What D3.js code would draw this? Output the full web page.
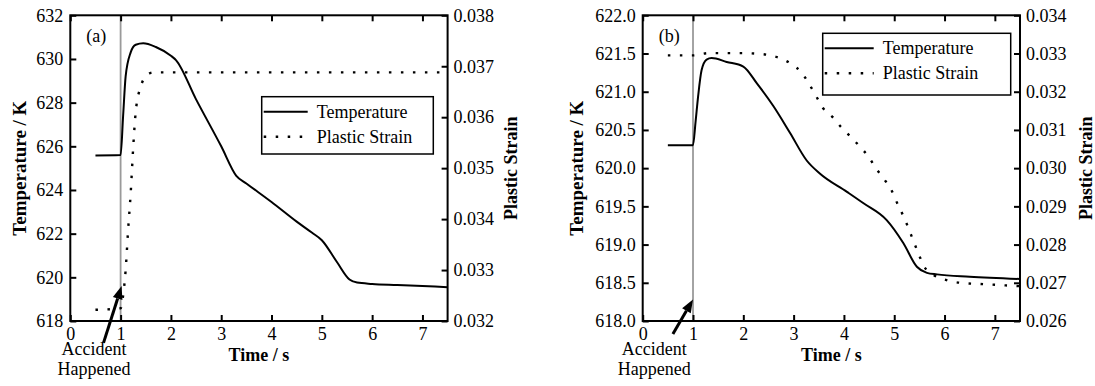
<!DOCTYPE html>
<html>
<head>
<meta charset="utf-8">
<script src="https://cdn.jsdelivr.net/npm/d3@7"></script>
<style>
  body { margin: 0; background: #fff; }
  svg, svg text { font-family: "Liberation Serif", "Times New Roman", "DejaVu Serif", serif !important; fill: #000; }
</style>
</head>
<body>
<svg id="chart" width="1095" height="386"></svg>
<script>
// ---- data ----
var timeTicks = [0, 1, 2, 3, 4, 5, 6, 7];

// panel (a)
var timeA_T = [0.5, 1.0, 1.05, 1.1, 1.2, 1.3, 1.45, 1.7, 2.0, 2.1, 2.5, 3.0, 3.3, 3.5, 4.0, 4.5, 4.8, 5.0, 5.3, 5.55, 5.7, 6.0, 6.5, 7.0, 7.5];
var tempA   = [625.58, 625.6, 627.4, 629.2, 630.3, 630.65, 630.72, 630.55, 630.15, 629.95, 628.15, 626.0, 624.65, 624.3, 623.45, 622.55, 622.05, 621.7, 620.7, 619.9, 619.76, 619.7, 619.65, 619.6, 619.55];
var timeA_S = [0.5, 1.0, 1.05, 1.1, 1.15, 1.2, 1.25, 1.3, 1.4, 1.5, 1.65, 7.5];
var strainA = [0.03222, 0.03225, 0.0325, 0.0330, 0.0338, 0.0345, 0.0354, 0.0361, 0.0366, 0.0368, 0.03688, 0.03688];
var tempTicksA   = [618, 620, 622, 624, 626, 628, 630, 632];
var strainTicksA = [0.032, 0.033, 0.034, 0.035, 0.036, 0.037, 0.038];

// panel (b)
var timeB_T = [0.5, 1.0, 1.05, 1.1, 1.17, 1.27, 1.37, 1.67, 2.0, 2.27, 2.6, 2.93, 3.26, 3.52, 4.06, 4.39, 4.85, 5.18, 5.45, 5.65, 5.85, 6.5, 7.5];
var tempB   = [620.3, 620.3, 620.6, 620.93, 621.28, 621.42, 621.44, 621.39, 621.33, 621.11, 620.81, 620.46, 620.1, 619.93, 619.69, 619.54, 619.32, 619.02, 618.71, 618.63, 618.61, 618.58, 618.55];
var timeB_S = [0.5, 1.0, 1.3, 2.0, 2.4, 2.7, 2.96, 3.16, 3.3, 3.45, 3.58, 3.78, 3.94, 4.12, 4.32, 4.49, 4.64, 4.8, 4.95, 5.06, 5.18, 5.28, 5.38, 5.48, 5.58, 5.79, 6.04, 6.31, 6.84, 7.5];
var strainB = [0.03295, 0.03295, 0.03301, 0.03301, 0.03298, 0.03289, 0.03272, 0.0325, 0.03222, 0.03188, 0.03158, 0.03133, 0.03108, 0.03084, 0.03056, 0.0303, 0.02999, 0.02971, 0.02941, 0.02908, 0.02875, 0.02844, 0.0281, 0.02777, 0.02746, 0.0272, 0.02707, 0.027, 0.02696, 0.02691];
var tempTicksB   = [618.0, 618.5, 619.0, 619.5, 620.0, 620.5, 621.0, 621.5, 622.0];
var strainTicksB = [0.026, 0.027, 0.028, 0.029, 0.030, 0.031, 0.032, 0.033, 0.034];

var seriesNames = ["Temperature", "Plastic Strain"];
var accidentTime = 1;

var FONT = "'Liberation Serif', 'Times New Roman', 'DejaVu Serif', serif";
var svg = d3.select("#chart").attr("font-family", FONT);
var top0 = 15.3, bottom0 = 321;

function zipPts(xs, ys) { return xs.map(function(x, i) { return [x, ys[i]]; }); }

function txt(sel, size, bold) {
  return sel.attr("font-family", FONT).style("font-family", FONT)
    .style("font-size", size + "px").style("font-weight", bold ? "bold" : "normal");
}

function drawPanel(p) {
  var x = d3.scaleLinear().domain([0, 7.5]).range([p.left, p.right]);
  var yT = d3.scaleLinear().domain(d3.extent(p.tempTicks)).range([bottom0, top0]);
  var yS = d3.scaleLinear().domain(d3.extent(p.strainTicks)).range([bottom0, top0]);
  var g = svg.append("g");

  // accident marker
  g.append("line")
    .attr("x1", x(accidentTime)).attr("x2", x(accidentTime))
    .attr("y1", top0).attr("y2", bottom0)
    .attr("stroke", "#9a9a9a").attr("stroke-width", 1.8);

  // curves
  var lineT = d3.line().x(function(d) { return x(d[0]); }).y(function(d) { return yT(d[1]); }).curve(d3.curveMonotoneX);
  var lineS = d3.line().x(function(d) { return x(d[0]); }).y(function(d) { return yS(d[1]); }).curve(d3.curveMonotoneX);

  g.append("path").attr("d", lineS(zipPts(p.timeS, p.strain)))
    .attr("fill", "none").attr("stroke", "#000").attr("stroke-width", 2.4)
    .attr("stroke-dasharray", "2.5,9.5");
  g.append("path").attr("d", lineT(zipPts(p.timeT, p.temp)))
    .attr("fill", "none").attr("stroke", "#000").attr("stroke-width", 2);

  // axes
  g.append("g").attr("transform", "translate(0," + bottom0 + ")")
    .call(d3.axisBottom(x).tickValues(timeTicks).tickSizeInner(-6).tickSizeOuter(0).tickPadding(6).tickFormat(d3.format("d")));
  g.append("g").attr("transform", "translate(0," + top0 + ")")
    .call(d3.axisTop(x).tickValues(timeTicks).tickSizeInner(-6).tickSizeOuter(0).tickFormat(""));
  g.append("g").attr("transform", "translate(" + p.left + ",0)")
    .call(d3.axisLeft(yT).tickValues(p.tempTicks).tickSizeInner(-6).tickSizeOuter(0).tickPadding(7).tickFormat(d3.format(p.tempFmt)));
  g.append("g").attr("transform", "translate(" + p.right + ",0)")
    .call(d3.axisRight(yS).tickValues(p.strainTicks).tickSizeInner(-6).tickSizeOuter(0).tickPadding(6).tickFormat(d3.format(".3f")));
  g.selectAll(".domain").remove();
  g.selectAll("g").attr("font-family", FONT);
  g.selectAll(".tick line").attr("stroke", "#000").attr("stroke-width", 2);
  txt(g.selectAll(".tick text"), 18, false);

  g.append("rect")
    .attr("x", p.left).attr("y", top0)
    .attr("width", p.right - p.left).attr("height", bottom0 - top0)
    .attr("fill", "none").attr("stroke", "#000").attr("stroke-width", 2);

  // axis titles
  txt(g.append("text").attr("x", (p.left + p.right) / 2).attr("y", 361)
    .attr("text-anchor", "middle"), 18, true).text("Time / s");
  txt(g.append("text")
    .attr("transform", "translate(" + (p.left - p.leftTitle) + "," + ((top0 + bottom0) / 2) + ") rotate(-90)")
    .attr("text-anchor", "middle"), 19, true).text("Temperature / K");
  txt(g.append("text")
    .attr("transform", "translate(" + (p.right + p.rightTitle) + "," + ((top0 + bottom0) / 2) + ") rotate(-90)")
    .attr("text-anchor", "middle"), 18, true).text("Plastic Strain");

  // panel label
  txt(g.append("text").attr("x", p.left + 16).attr("y", 42), 18, false).text(p.label);

  // arrow + note
  var tail = [x(p.arrowFrom[0]), yT(p.arrowFrom[1])], tip = [x(p.arrowTo[0]), yT(p.arrowTo[1])];
  var ang = Math.atan2(tip[1] - tail[1], tip[0] - tail[0]);
  var hl = 13, hw = 5;
  var base = [tip[0] - hl * Math.cos(ang), tip[1] - hl * Math.sin(ang)];
  g.append("line").attr("x1", tail[0]).attr("y1", tail[1]).attr("x2", base[0]).attr("y2", base[1])
    .attr("stroke", "#000").attr("stroke-width", 3);
  g.append("path")
    .attr("d", "M" + tip + "L" + [base[0] + hw * Math.sin(ang), base[1] - hw * Math.cos(ang)] +
      "L" + [base[0] - hw * Math.sin(ang), base[1] + hw * Math.cos(ang)] + "Z")
    .attr("fill", "#000");
  txt(g.append("text").attr("x", x(p.noteTime)).attr("y", 355).attr("text-anchor", "middle"), 18, false).text("Accident");
  txt(g.append("text").attr("x", x(p.noteTime)).attr("y", 375).attr("text-anchor", "middle"), 18, false).text("Happened");

  // legend
  var L = p.legend;
  g.append("rect").attr("x", L.x).attr("y", L.y).attr("width", L.w).attr("height", L.h)
    .attr("fill", "#fff").attr("stroke", "#000").attr("stroke-width", 1.5);
  seriesNames.forEach(function(name, i) {
    var yy = L.y + 15 + i * 25;
    g.append("line").attr("x1", L.x + 2).attr("x2", L.x + L.sample).attr("y1", yy).attr("y2", yy)
      .attr("stroke", "#000").attr("stroke-width", i === 0 ? 2 : 2.4)
      .attr("stroke-dasharray", i === 0 ? null : "2.5,9.5");
    txt(g.append("text").attr("x", L.x + L.sample + 9).attr("y", yy + 6), 18, false).text(name);
  });
}

drawPanel({
  left: 70.3, right: 447.6, label: "(a)", leftTitle: 44, rightTitle: 69,
  timeT: timeA_T, temp: tempA, timeS: timeA_S, strain: strainA,
  tempTicks: tempTicksA, strainTicks: strainTicksA, tempFmt: "d",
  arrowFrom: [0.66, 617.0], arrowTo: [1.02, 619.6], noteTime: 0.47,
  legend: { x: 261.7, y: 96.7, w: 171.6, h: 57.3, sample: 46 }
});
drawPanel({
  left: 642.7, right: 1020, label: "(b)", leftTitle: 59.5, rightTitle: 71.5,
  timeT: timeB_T, temp: tempB, timeS: timeB_S, strain: strainB,
  tempTicks: tempTicksB, strainTicks: strainTicksB, tempFmt: ".1f",
  arrowFrom: [0.6, 617.83], arrowTo: [1.0, 618.28], noteTime: 0.23,
  legend: { x: 822.7, y: 33.3, w: 188, h: 61.7, sample: 51 }
});
</script>
</body>
</html>
